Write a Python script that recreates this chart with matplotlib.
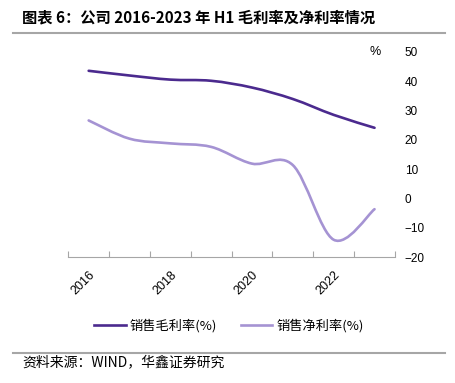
import matplotlib
matplotlib.use("Agg")
import matplotlib.pyplot as plt
from matplotlib.path import Path
from matplotlib.patches import PathPatch
from matplotlib.lines import Line2D

plt.rcParams["font.family"] = ["Noto Sans CJK SC", "DejaVu Sans"]

years = ["2016", "2017", "2018", "2019", "2020", "2021", "2022", "2023H1"]
gross_margin = [43.5, 41.9, 40.5, 40.1, 37.8, 33.9, 28.5, 24.1]
net_margin = [26.6, 20.4, 18.8, 17.6, 11.9, 11.4, -14.0, -3.6]
tick_labels = ["2016", "", "2018", "", "2020", "", "2022", ""]

DARK = "#4b2a8e"
LIGHT = "#a593d3"
GRID_GRAY = "#a6a6a6"


def smooth_path(xs, ys):
    # Catmull-Rom style bezier like office "smoothed line"
    pts = list(zip(xs, ys))
    verts = [pts[0]]
    codes = [Path.MOVETO]
    n = len(pts)
    for i in range(n - 1):
        p0 = pts[i - 1] if i > 0 else pts[i]
        p1 = pts[i]
        p2 = pts[i + 1]
        p3 = pts[i + 2] if i + 2 < n else pts[i + 1]
        c1 = (p1[0] + (p2[0] - p0[0]) / 6, p1[1] + (p2[1] - p0[1]) / 6)
        c2 = (p2[0] - (p3[0] - p1[0]) / 6, p2[1] - (p3[1] - p1[1]) / 6)
        verts += [c1, c2, p2]
        codes += [Path.CURVE4] * 3
    return Path(verts, codes)


fig = plt.figure(figsize=(4.55, 3.83), dpi=100)
ax = fig.add_axes([0.150, 0.328, 0.718, 0.537])

x = list(range(len(years)))
for vals, col in [(gross_margin, DARK), (net_margin, LIGHT)]:
    patch = PathPatch(smooth_path(x, vals), facecolor="none", edgecolor=col,
                      linewidth=1.9, capstyle="round", zorder=3)
    ax.add_patch(patch)

ax.set_xlim(-0.5, len(years) - 0.5)
ax.set_ylim(-20, 50)
ax.set_yticks(range(-20, 51, 10))
ax.yaxis.tick_right()
ax.tick_params(axis="y", length=0, pad=7, labelsize=8.5)
for lab in ax.get_yticklabels():
    lab.set_family(["Liberation Sans", "DejaVu Sans"])
    lab.set_horizontalalignment("left")

ax.set_xticks(x)
ax.set_xticklabels(tick_labels, rotation=45, ha="right", va="top",
                   rotation_mode="anchor", fontsize=9,
                   family=["Liberation Sans", "DejaVu Sans"])
ax.tick_params(axis="x", which="major", length=0, pad=8)
ax.set_xticks([i - 0.5 for i in range(len(years) + 1)], minor=True)
ax.tick_params(axis="x", which="minor", direction="in", length=4,
               color=GRID_GRAY, width=0.8)

for s in ["top", "right", "left"]:
    ax.spines[s].set_visible(False)
ax.spines["bottom"].set_color(GRID_GRAY)
ax.spines["bottom"].set_linewidth(0.8)

ax.text(0.94, 50, "%", transform=ax.get_yaxis_transform(), ha="center",
        va="center", fontsize=9, family=["Liberation Sans", "DejaVu Sans"])

fig.text(0.048, 0.955, "图表 6：公司 2016-2023 年 H1 毛利率及净利率情况",
         fontsize=11, fontweight="bold", ha="left", va="center")
fig.add_artist(Line2D([0.029, 0.978], [0.914, 0.914], color=GRID_GRAY,
                      linewidth=1.5, transform=fig.transFigure))
fig.add_artist(Line2D([0.029, 0.978], [0.0775, 0.0775], color=GRID_GRAY,
                      linewidth=1.5, transform=fig.transFigure))
fig.text(0.05, 0.054, "资料来源：WIND，华鑫证券研究", fontsize=10,
         ha="left", va="center")

handles = [Line2D([], [], color=DARK, linewidth=1.9),
           Line2D([], [], color=LIGHT, linewidth=1.9)]
fig.legend(handles, ["销售毛利率(%)", "销售净利率(%)"], loc="center",
           bbox_to_anchor=(0.503, 0.150), ncol=2, frameon=False, fontsize=9.5,
           handlelength=2.4, handletextpad=0.3, columnspacing=1.8)

fig.savefig("out.png", dpi=100, facecolor="white")
